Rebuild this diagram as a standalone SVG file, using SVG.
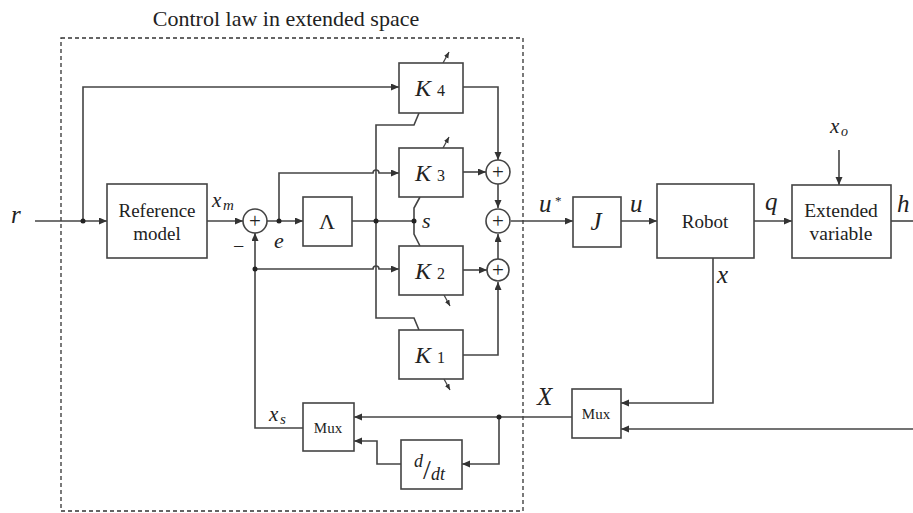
<svg xmlns="http://www.w3.org/2000/svg" width="913" height="513" viewBox="0 0 913 513">
<defs>
<marker id="arr" markerUnits="userSpaceOnUse" markerWidth="9" markerHeight="8" refX="8" refY="3.5" orient="auto"><path d="M0,0 L8,3.5 L0,7 z" fill="#333"/></marker>
<marker id="sarr" markerUnits="userSpaceOnUse" markerWidth="7" markerHeight="6" refX="6" refY="2.5" orient="auto"><path d="M0,0 L6,2.5 L0,5 z" fill="#333"/></marker>
<style>
.b{fill:#fff;stroke:#444;stroke-width:1.6}
.c{fill:none;stroke:#444;stroke-width:1.6}
.a{marker-end:url(#arr)}
.sa{fill:none;stroke:#444;stroke-width:1.3;marker-end:url(#sarr)}
.d{fill:#222}
.t{font-family:"Liberation Serif","Times New Roman",serif;fill:#222}
.i{font-family:"Liberation Serif","Times New Roman",serif;font-style:italic;fill:#222}
.m{text-anchor:middle}
</style>
</defs>
<rect width="913" height="513" fill="#fff"/>
<text class="t m" x="286" y="26" font-size="22">Control law in extended space</text>
<rect x="61" y="38" width="462" height="473" fill="none" stroke="#333" stroke-width="1.3" stroke-dasharray="4,3"/>

<g id="connectors">
<path class="c a" d="M35,221 H107"/>
<path class="c a" d="M83,221 V87 H399"/>
<path class="c a" d="M207,221 H243"/>
<path class="c a" d="M267,221 H303"/>
<path class="c a" d="M279,221 V173 H373 a3,3 0 0 1 6,0 H399"/>
<path class="c" d="M352,221 H414"/>
<path class="c" d="M419,113 L414,125 H376 V318 H414 L419,330"/>
<path class="c" d="M420,197 L414,208 V234 L420,246"/>
<path class="c a" d="M463,87 H498 V160"/>
<path class="c a" d="M463,172 H486"/>
<path class="c a" d="M498,184 V208"/>
<path class="c a" d="M463,270 H487"/>
<path class="c a" d="M498,259 V234"/>
<path class="c a" d="M463,355 H498 V282"/>
<path class="c a" d="M511,221 H573"/>
<path class="c a" d="M621,221 H657"/>
<path class="c a" d="M754,221 H792"/>
<path class="c a" d="M839,150 V185"/>
<path class="c" d="M891,221 H913"/>
<path class="c a" d="M713,258 V403 H621"/>
<path class="c a" d="M913,429 H621"/>
<path class="c a" d="M572,417 H354"/>
<path class="c a" d="M499,417 V464 H462"/>
<path class="c a" d="M401,464 H377 V441 H354"/>
<path class="c a" d="M303,428 H255 V233"/>
<path class="c a" d="M255,269 H373 a3,3 0 0 1 6,0 H399"/>
<path class="sa" d="M443,63 L449,52"/>
<path class="sa" d="M443,148 L449,137"/>
<path class="sa" d="M444,295 L450,306"/>
<path class="sa" d="M444,379 L450,390"/>
<circle class="d" cx="83" cy="221" r="2.5"/>
<circle class="d" cx="279" cy="221" r="2.5"/>
<circle class="d" cx="376" cy="221" r="2.5"/>
<circle class="d" cx="414" cy="221" r="2.5"/>
<circle class="d" cx="255" cy="269" r="2.5"/>
<circle class="d" cx="499" cy="417" r="2.5"/>
</g>

<g id="labels">
<text class="i" x="11" y="223" font-size="25">r</text>
<text class="i" x="212" y="207" font-size="21">x</text>
<text class="i" x="223" y="210" font-size="15">m</text>
<text class="t" x="233" y="253" font-size="20">−</text>
<text class="i" x="274" y="248" font-size="22">e</text>
<text class="i" x="422" y="228" font-size="22">s</text>
<text class="i" x="539" y="212" font-size="25">u</text>
<text class="t" x="555" y="205" font-size="13">*</text>
<text class="i" x="630" y="212" font-size="25">u</text>
<text class="i" x="765" y="210" font-size="25">q</text>
<text class="i" x="830" y="133" font-size="21">x</text>
<text class="i" x="841" y="136" font-size="14">o</text>
<text class="i" x="897" y="212" font-size="25">h</text>
<text class="i" x="717" y="283" font-size="25">x</text>
<text class="i" x="537" y="405" font-size="25">X</text>
<text class="i" x="269" y="421" font-size="21">x</text>
<text class="i" x="280" y="424" font-size="15">s</text>
</g>

<g id="refmodel"><rect class="b" x="107" y="184" width="100" height="74"/><text class="t m" x="157" y="217" font-size="19">Reference</text><text class="t m" x="157" y="240" font-size="19">model</text></g>
<g id="sum1"><circle class="b" cx="255" cy="221" r="12"/><text class="t m" x="255" y="228" font-size="21">+</text></g>
<g id="lambda"><rect class="b" x="303" y="197" width="49" height="49"/><text class="t m" x="327" y="229" font-size="22">Λ</text></g>
<g id="K4"><rect class="b" x="399" y="63" width="64" height="50"/><text class="i" x="415" y="96" font-size="24">K</text><text class="t" x="437" y="96" font-size="16">4</text></g>
<g id="K3"><rect class="b" x="399" y="148" width="64" height="49"/><text class="i" x="415" y="181" font-size="24">K</text><text class="t" x="437" y="181" font-size="16">3</text></g>
<g id="K2"><rect class="b" x="399" y="246" width="64" height="49"/><text class="i" x="415" y="279" font-size="24">K</text><text class="t" x="437" y="279" font-size="16">2</text></g>
<g id="K1"><rect class="b" x="399" y="330" width="64" height="49"/><text class="i" x="415" y="363" font-size="24">K</text><text class="t" x="437" y="363" font-size="16">1</text></g>
<g id="sumA"><circle class="b" cx="498" cy="172" r="12"/><text class="t m" x="498" y="179" font-size="21">+</text></g>
<g id="sumB"><circle class="b" cx="498" cy="221" r="12"/><text class="t m" x="498" y="228" font-size="21">+</text></g>
<g id="sumC"><circle class="b" cx="498" cy="270" r="11"/><text class="t m" x="498" y="277" font-size="21">+</text></g>
<g id="J"><rect class="b" x="573" y="197" width="48" height="50"/><text class="i m" x="596" y="230" font-size="25">J</text></g>
<g id="robot"><rect class="b" x="657" y="184" width="97" height="74"/><text class="t m" x="705" y="228" font-size="19">Robot</text></g>
<g id="extended"><rect class="b" x="792" y="185" width="99" height="73"/><text class="t m" x="841" y="217" font-size="19.5">Extended</text><text class="t m" x="841" y="240" font-size="19.5">variable</text></g>
<g id="mux2"><rect class="b" x="572" y="389" width="49" height="49"/><text class="t m" x="596" y="419" font-size="15">Mux</text></g>
<g id="mux1"><rect class="b" x="303" y="403" width="51" height="48"/><text class="t m" x="328" y="433" font-size="15">Mux</text></g>
<g id="ddt"><rect class="b" x="401" y="440" width="61" height="49"/><text class="i" x="414" y="467" font-size="18">d</text><text class="t" x="423" y="479" font-size="28">/</text><text class="i" x="431" y="480" font-size="18">dt</text></g>
</svg>
